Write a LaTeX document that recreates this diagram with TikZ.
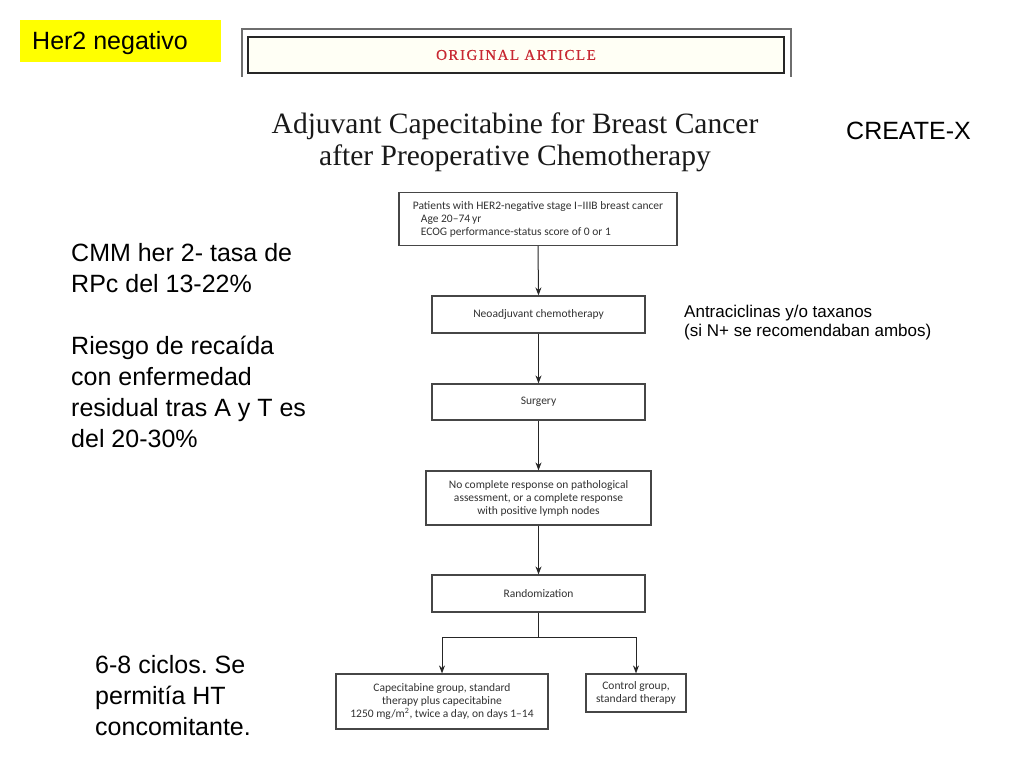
\documentclass[tikz,border=0pt]{standalone}
\usepackage{fontspec}
\setmainfont{Liberation Serif}
\newfontfamily\arialfont{Liberation Sans}
\newfontfamily\flowfont[Ligatures=TeX]{Carlito}
\usetikzlibrary{arrows.meta,positioning}
\definecolor{slideyellow}{RGB}{255,255,0}
\definecolor{boxgray}{RGB}{70,70,70}
\definecolor{textgray}{RGB}{50,50,50}
\definecolor{nejmred}{RGB}{200,40,50}
\definecolor{ivory}{RGB}{255,255,245}
\definecolor{framegray}{RGB}{110,110,110}

\begin{document}
\begin{tikzpicture}[x=1pt,y=-1pt,
  flowbox/.style={draw=boxgray, line width=1.2pt, text=textgray, font=\flowfont\fontsize{11.5}{13}\selectfont, align=center, inner sep=0pt},
  arr/.style={-{Stealth[length=8pt,width=6pt]}, line width=1pt, black!85},
  slidetext/.style={font=\arialfont\fontsize{25}{31}\selectfont\frenchspacing, align=left, inner sep=0pt}]
\useasboundingbox[fill=white] (0,0) rectangle (1024,768);
% Label top left
\node[fill=slideyellow, minimum width=201, minimum height=42, inner sep=0pt] (her) at (120.5,41) {};
\node[font=\arialfont\fontsize{25}{31}\selectfont, inner sep=0pt, anchor=west] (hertext) at (32,43) {Her2 negativo};
% Article header
\draw[framegray, line width=1.5pt] (242,77) -- (242,29) -- (791,29) -- (791,77);
\node[draw=black!85, line width=2.2pt, fill=ivory, minimum width=536, minimum height=36, inner sep=0pt, text=nejmred, font=\fontsize{15}{18}\selectfont\addfontfeature{LetterSpace=10,FakeBold=0.6}] (banner) at (516,55) {ORIGINAL ARTICLE};
\node[font=\fontsize{29.5}{32}\selectfont, align=center, text=black!90] (title) at (515,142) {Adjuvant Capecitabine for Breast Cancer\\after Preoperative Chemotherapy};
\node[slidetext, anchor=west] (trial) at (846,131) {CREATE-X};
% Flow chart
\node[flowbox, align=left, minimum width=278, minimum height=53] (elig) at (538,219) {Patients with HER2-negative stage I–IIIB breast cancer\\\hspace*{8pt}Age 20–74\,yr\\\hspace*{8pt}ECOG performance-status score of 0 or 1};
\node[flowbox, minimum width=213, minimum height=37] (neo) at (538.5,314.5) {Neoadjuvant chemotherapy};
\node[flowbox, minimum width=213, minimum height=36] (surg) at (538.5,402) {Surgery};
\node[flowbox, minimum width=225, minimum height=54] (resid) at (538.5,498) {No complete response on pathological\\assessment, or a complete response\\with positive lymph nodes};
\node[flowbox, minimum width=213, minimum height=37] (rand) at (538.5,593.5) {Randomization};
\node[flowbox, minimum width=212, minimum height=55] (cape) at (442,701.5) {Capecitabine group, standard\\therapy plus capecitabine\\1250 mg/m\textsuperscript{2}, twice a day, on days 1–14};
\node[flowbox, minimum width=100, minimum height=38] (ctrl) at (636,693) {Control group,\\standard therapy};
\draw[arr] (elig.south) -- (neo.north);
\draw[arr] (neo.south) -- (surg.north);
\draw[arr] (surg.south) -- (resid.north);
\draw[arr] (resid.south) -- (rand.north);
\coordinate (split) at (538.5,637);
\draw[line width=1pt, black!85] (rand.south) -- (split);
\draw[arr] (split) -| (cape.north);
\draw[arr] (split) -| (ctrl.north);
% Notes
\node[font=\arialfont\fontsize{17}{19}\selectfont, align=left, inner sep=0pt, anchor=north west] (antra) at (684,305) {Antraciclinas y/o taxanos\\(si N+ se recomendaban ambos)};
\node[slidetext, anchor=north west] (rpc) at (71,243) {CMM her 2- tasa de\\RPc del 13-22\%\\[31pt]Riesgo de recaída\\con enfermedad\\residual tras A y T es\\del 20-30\%};
\node[slidetext, anchor=north west] (ciclos) at (95,655) {6-8 ciclos. Se\\permitía HT\\concomitante.};
\end{tikzpicture}
\end{document}
